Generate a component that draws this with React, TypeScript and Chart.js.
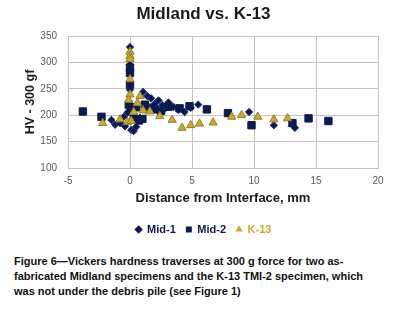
import React, { useEffect, useRef } from "react";
import { Chart, registerables } from "chart.js";

Chart.register(...registerables);

const mid1X = [0, 0, 0, 0, 0, -0.2, -0.5, -1.5, -1.2, -0.8, -0.4, 0.1, 0.3, 0.5, 0.8, 1.05, 1.4, 1.7, 2.0, 2.3, 2.6, 2.8, 3.1, 3.5, 3.9, 4.4, 4.9, 5.5, 9.6, 11.6, 13.3];
const mid1Y = [329, 296, 285, 248, 215, 205, 197, 191, 182, 185, 179, 172, 170, 178, 195, 244, 236, 232, 222, 228, 219, 212, 224, 216, 210, 206, 214, 220, 206, 181, 176];

const mid2X = [-3.8, -2.3, 0, 0, 0, -0.1, 0.1, 0.3, 0.7, 1.0, 0.5, 1.2, 1.6, 2.0, 2.5, 3.1, 4.0, 4.8, 6.2, 7.9, 9.8, 13.1, 14.4, 16.0];
const mid2Y = [207, 197, 290, 280, 258, 220, 208, 196, 190, 193, 215, 220, 214, 211, 208, 216, 213, 217, 211, 204, 181, 185, 194, 189];

const k13X = [0, 0, 0, 0, 0, -0.1, 0.8, 0.6, 0.3, 1.05, 1.6, 2.4, 3.4, 4.2, 4.9, 5.6, 6.7, 8.2, 9.0, 10.3, 11.6, 12.7, -2.2, -0.8, -0.2, 0.1];
const k13Y = [320, 312, 306, 268, 239, 229, 236, 223, 206, 209, 207, 198, 191, 176, 181, 184, 186, 197, 200, 197, 192, 194, 185, 192, 187, 189];

const seriesNames = ["Mid-1", "Mid-2", "K-13"];
const xTickLimits = [-5, 20];
const yTickLimits = [100, 350];

const captionLines = [
  "Figure 6\u2014Vickers hardness traverses at 300 g force for two as-",
  "fabricated Midland specimens and the K-13 TMI-2 specimen, which",
  "was not under the debris pile (see Figure 1)",
];

const NAVY = "#0c1a4f";
const GOLD = "#d3a626";

function pts(xs: number[], ys: number[]) {
  return xs.map((x, i) => ({ x, y: ys[i] }));
}

export default function App() {
  const ref = useRef<HTMLCanvasElement | null>(null);
  useEffect(() => {
    document.body.style.margin = "0";
    const canvas = ref.current!;
    const legendColors = [NAVY, NAVY, "#d9a520"];
    const chart = new Chart(canvas, {
      type: "scatter",
      data: {
        datasets: [
          {
            label: seriesNames[0],
            data: pts(mid1X, mid1Y),
            pointStyle: "rectRot",
            pointRadius: 3.7,
            backgroundColor: NAVY,
            borderColor: "#1d3576",
            borderWidth: 1,
            order: 2,
          },
          {
            label: seriesNames[1],
            data: pts(mid2X, mid2Y),
            pointStyle: "rect",
            pointRadius: 5.2,
            backgroundColor: NAVY,
            borderColor: NAVY,
            borderWidth: 1,
            order: 1,
          },
          {
            label: seriesNames[2],
            data: pts(k13X, k13Y),
            pointStyle: "triangle",
            pointRadius: 4.8,
            backgroundColor: GOLD,
            borderColor: "#8a8430",
            borderWidth: 1,
            order: 0,
          },
        ],
      },
      options: {
        animation: false,
        responsive: false,
        devicePixelRatio: 1,
        layout: { padding: { left: 29, right: 21, top: 0, bottom: 0 } },
        plugins: {
          tooltip: { enabled: false },
          title: {
            display: true,
            text: "Midland vs. K-13",
            color: "#1a1a1a",
            font: { family: "Liberation Sans", size: 17, weight: "bold" },
            padding: { top: 4, bottom: 11.6 },
          },
          legend: {
            position: "bottom",
            labels: {
              usePointStyle: true,
              boxWidth: 6,
              boxHeight: 6,
              padding: 10,
              font: { family: "Liberation Sans", size: 11, weight: "bold" },
              sort: (a: any, b: any) => a.datasetIndex - b.datasetIndex,
              generateLabels: (c: any) => {
                const items = Chart.defaults.plugins.legend.labels.generateLabels(c);
                return items.map((it: any) => ({
                  ...it,
                  fontColor: legendColors[it.datasetIndex],
                  lineWidth: 0,
                  strokeStyle: "rgba(0,0,0,0)",
                }));
              },
            },
          },
        },
        scales: {
          x: {
            type: "linear",
            min: xTickLimits[0],
            max: xTickLimits[1],
            afterFit: (s: any) => {
              s.height = 46;
            },
            ticks: {
              stepSize: 5,
              padding: 7,
              color: "#595959",
              font: { family: "Liberation Sans", size: 10 },
            },
            grid: { color: "#c4c4c4", drawTicks: false },
            border: { color: "#c4c4c4" },
            title: {
              display: true,
              text: "Distance from Interface, mm",
              color: "#1a1a1a",
              font: { family: "Liberation Sans", size: 13, weight: "bold" },
              padding: { top: 4, bottom: 8 },
            },
          },
          y: {
            type: "linear",
            min: yTickLimits[0],
            max: yTickLimits[1],
            afterFit: (s: any) => {
              s.width = 39;
            },
            ticks: {
              stepSize: 50,
              padding: 11,
              color: "#595959",
              font: { family: "Liberation Sans", size: 10 },
            },
            grid: { color: "#c4c4c4", drawTicks: false },
            border: { color: "#c4c4c4" },
            title: {
              display: true,
              text: "HV - 300 gf",
              color: "#1a1a1a",
              font: { family: "Liberation Sans", size: 12.5, weight: "bold" },
              padding: { top: -6, bottom: 4 },
            },
          },
        },
      },
    });
    return () => chart.destroy();
  }, []);

  return (
    <div style={{ position: "relative", width: 399, height: 316, background: "#fff" }}>
      <canvas ref={ref} width={399} height={245} style={{ display: "block" }} />
      <div
        style={{
          position: "absolute",
          left: 14,
          top: 254,
          fontFamily: "'Liberation Sans Narrow', 'Liberation Sans', Arial, sans-serif",
          fontWeight: "bold",
          fontSize: 11,
          lineHeight: "15px",
          color: "#111",
        }}
      >
        {captionLines.map((l, i) => (
          <div key={i} style={{ whiteSpace: "nowrap" }}>{l}</div>
        ))}
      </div>
    </div>
  );
}
